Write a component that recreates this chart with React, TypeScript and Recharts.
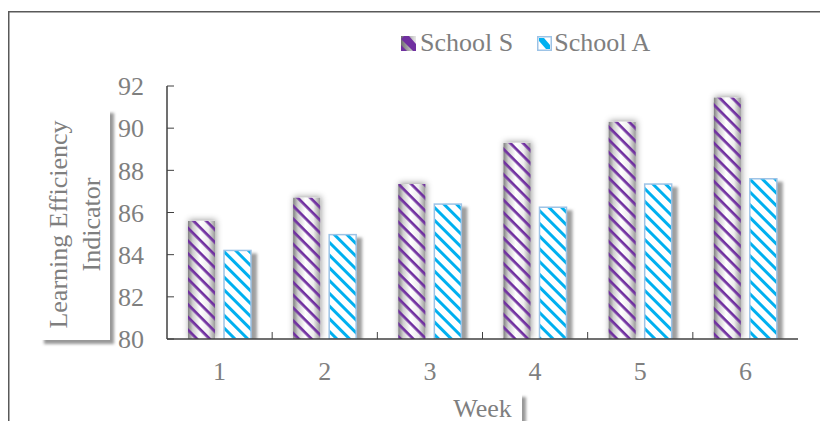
import { BarChart, Bar, XAxis, YAxis, Legend } from "recharts";

const weeks = ["1", "2", "3", "4", "5", "6"];
const schoolS = [85.6, 86.7, 87.35, 89.3, 90.3, 91.45];
const schoolA = [84.2, 84.95, 86.4, 86.25, 87.35, 87.6];
const yTicks = [80, 82, 84, 86, 88, 90, 92];
const seriesNames = ["School S", "School A"];

const data = weeks.map((week, i) => ({ week, s: schoolS[i], a: schoolA[i] }));

const FONT = "'Liberation Serif', 'Times New Roman', serif";
const TEXT = "#7f7f7f";
const AXIS = "#404040";
const PURPLE = "#7030a0";
const BLUE = "#00b0f0";
const BLUE_EDGE = "#9dc3e6";

const W = 820;
const H = 413;
const MARGIN = { top: 78, right: 30, left: 0, bottom: 0 };

const SchoolSBar = (p: any) => {
  const { x, y, width, height } = p;
  if (!height || height <= 0) return null;
  return (
    <g>
      <rect x={x} y={y} width={width} height={height} fill="url(#cylinder)" filter="url(#halo)" />
      <rect x={x} y={y} width={width} height={height} fill="url(#stripeS)" />
    </g>
  );
};

const SchoolABar = (p: any) => {
  const { x, y, width, height } = p;
  if (!height || height <= 0) return null;
  return (
    <g>
      <rect x={x} y={y} width={width} height={height} fill="#fff" filter="url(#dropRight)" />
      <rect x={x} y={y} width={width} height={height} fill="url(#stripeA)" />
      <rect x={x} y={y} width={width} height={height} fill="none" stroke={BLUE_EDGE} strokeWidth={1.5} />
    </g>
  );
};

// category label in the middle, small inward tick on the right-hand boundary
const WeekTick = (p: any) => {
  const { x, y, payload, index } = p;
  const edge = payload.coordinate + (payload.offset ?? 0);
  return (
    <g>
      <text x={x} y={y + 41} textAnchor="middle" fill={TEXT} fontSize={26} fontFamily={FONT}>
        {payload.value}
      </text>
      {index < weeks.length - 1 && (
        <line x1={edge} x2={edge} y1={y} y2={y - 7} stroke={AXIS} strokeWidth={1} />
      )}
    </g>
  );
};

const Swatch = ({ kind }: { kind: "s" | "a" }) =>
  kind === "s" ? (
    <svg width={15} height={15} style={{ display: "block" }}>
      <defs>
        <linearGradient id="swS" x1="0" y1="0" x2="1" y2="0">
          <stop offset="0" stopColor="#6f6f6f" />
          <stop offset="1" stopColor="#e8e8e8" />
        </linearGradient>
      </defs>
      <rect width={15} height={15} fill="url(#swS)" />
      <polygon points="3,0 8,0 15,8 15,15 12,15 0,3" fill={PURPLE} />
      <polygon points="0,9 0,15 6,15" fill={PURPLE} />
    </svg>
  ) : (
    <svg width={15} height={15} style={{ display: "block" }}>
      <rect x={0.75} y={0.75} width={13.5} height={13.5} fill="#fff" stroke={BLUE_EDGE} strokeWidth={1.5} />
      <polygon points="2,2 7,2 13,9 13,13 9,13 2,5" fill={BLUE} />
    </svg>
  );

const LegendContent = () => (
  <div
    style={{
      display: "flex",
      alignItems: "center",
      fontFamily: FONT,
      fontSize: 26,
      color: TEXT,
      lineHeight: "30px",
      whiteSpace: "nowrap",
    }}
  >
    <Swatch kind="s" />
    <span style={{ marginLeft: 4, marginRight: 24 }}>{seriesNames[0]}</span>
    <Swatch kind="a" />
    <span style={{ marginLeft: 2 }}>{seriesNames[1]}</span>
  </div>
);

export default function App() {
  return (
    <div style={{ width: W, height: H }}>
      <BarChart width={W} height={H} data={data} margin={MARGIN} barSize={27} barGap={9}>
        <defs>
          <pattern id="stripeS" patternUnits="userSpaceOnUse" width={9} height={9} patternTransform="rotate(45)">
            <rect x={0} y={0} width={9} height={2.7} fill={PURPLE} />
          </pattern>
          <pattern id="stripeA" patternUnits="userSpaceOnUse" width={9} height={9} patternTransform="rotate(45)">
            <rect x={0} y={0} width={9} height={3} fill={BLUE} />
          </pattern>
          <linearGradient id="cylinder" x1="0" y1="0" x2="1" y2="0">
            <stop offset="0" stopColor="#808080" />
            <stop offset="0.18" stopColor="#d0d0d0" />
            <stop offset="0.45" stopColor="#ffffff" />
            <stop offset="0.75" stopColor="#eeeeee" />
            <stop offset="1" stopColor="#9a9a9a" />
          </linearGradient>
          <filter id="halo" x="-50%" y="-20%" width="200%" height="140%">
            <feDropShadow dx={1} dy={-1} stdDeviation={3} floodColor="#000" floodOpacity={0.4} />
          </filter>
          <filter id="dropRight" x="-20%" y="-20%" width="180%" height="140%">
            <feDropShadow dx={6} dy={3} stdDeviation={1.8} floodColor="#7f7f7f" floodOpacity={0.75} />
          </filter>
          <filter id="boxShadow" x="-20%" y="-20%" width="150%" height="150%">
            <feDropShadow dx={4} dy={4} stdDeviation={1.5} floodColor="#7f7f7f" floodOpacity={0.8} />
          </filter>
        </defs>

        {/* outer chart border, runs off the right and bottom */}
        <path d={`M0.75 ${H} V3.75 H${W}`} fill="none" stroke="#595959" strokeWidth={1.5} />

        <XAxis
          dataKey="week"
          height={82}
          tickSize={0}
          tickMargin={0}
          tickLine={false}
          interval={0}
          axisLine={{ stroke: AXIS, strokeWidth: 1.5 }}
          tick={<WeekTick />}
        />
        <XAxis xAxisId="top" dataKey="week" orientation="top" height={0} tick={false} tickLine={false} axisLine={{ stroke: AXIS, strokeWidth: 1.5 }} />
        <YAxis
          width={159}
          domain={[80, 92]}
          ticks={yTicks}
          interval={0}
          allowDataOverflow
          tickSize={-7}
          tickMargin={30}
          tickLine={{ stroke: AXIS, strokeWidth: 1 }}
          axisLine={{ stroke: AXIS, strokeWidth: 1.5 }}
          tick={{ fill: TEXT, fontSize: 26, fontFamily: FONT }}
        />
        <YAxis yAxisId="right" orientation="right" width={0} domain={[0, 1]} tick={false} tickLine={false} axisLine={{ stroke: AXIS, strokeWidth: 1.5 }} />

        <Legend
          verticalAlign="middle"
          align="center"
          layout="horizontal"
          content={LegendContent}
          wrapperStyle={{ top: 20, left: 393, width: "auto" }}
        />

        <Bar dataKey="s" name={seriesNames[0]} fill={PURPLE} shape={SchoolSBar} isAnimationActive={false} />
        <Bar dataKey="a" name={seriesNames[1]} fill={BLUE} shape={SchoolABar} isAnimationActive={false} />

        {/* y axis title */}
        <g>
          <rect x={32} y={101} width={70} height={231} fill="#fff" filter="url(#boxShadow)" />
          <text x={58.5} y={216.5} transform="rotate(-90 58.5 216.5)" textAnchor="middle" fill={TEXT} fontSize={26} fontFamily={FONT}>
            Learning Efficiency
          </text>
          <text x={91.5} y={216.5} transform="rotate(-90 91.5 216.5)" textAnchor="middle" fill={TEXT} fontSize={26} fontFamily={FONT}>
            Indicator
          </text>
        </g>

        {/* x axis title */}
        <g>
          <rect x={440} y={385} width={74} height={60} fill="#fff" filter="url(#boxShadow)" />
          <text x={474.5} y={409} textAnchor="middle" fill={TEXT} fontSize={26} fontFamily={FONT}>
            Week
          </text>
        </g>
      </BarChart>
    </div>
  );
}
